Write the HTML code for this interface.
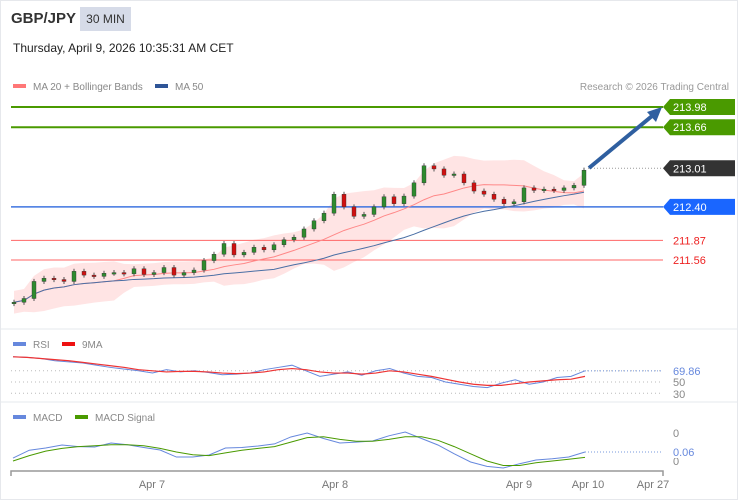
<!DOCTYPE html>
<html><head><meta charset="utf-8">
<style>
html,body{margin:0;padding:0;background:#fff;}
body{width:738px;height:500px;overflow:hidden;font-family:"Liberation Sans",sans-serif;}
#frame{position:absolute;left:0;top:0;width:736px;height:498px;border:1px solid #e6e8ec;}
.t{position:absolute;white-space:nowrap;}
</style></head><body>
<div id="frame"></div>
<div class="t" style="left:11px;top:10px;font-size:15px;font-weight:bold;color:#333;">GBP/JPY</div>
<div class="t" style="left:80px;top:7px;width:51px;height:24px;background:#d6dbe8;color:#333;font-size:12px;line-height:24px;text-align:center;">30 MIN</div>
<div class="t" style="left:13px;top:41px;font-size:12px;color:#222;">Thursday, April 9, 2026 10:35:31 AM CET</div>
<svg id="chart" width="738" height="500" style="position:absolute;left:0;top:0;"></svg>
<script>
// ---------- data ----------
const closes=[210.89,210.95,211.22,211.27,211.25,211.22,211.38,211.32,211.30,211.35,211.36,211.34,211.42,211.33,211.36,211.44,211.32,211.36,211.40,211.55,211.65,211.82,211.64,211.68,211.76,211.72,211.80,211.88,211.92,212.05,212.18,212.30,212.60,212.40,212.25,212.28,212.40,212.56,212.45,212.57,212.78,213.05,213.00,212.90,212.92,212.78,212.65,212.60,212.52,212.45,212.48,212.70,212.66,212.68,212.66,212.70,212.74,212.98];
const levelPrices=[213.98,213.66,213.01,212.40,211.87,211.56];
const levelLabels=["213.98","213.66","213.01","212.40","211.87","211.56"];
const rsiVals=[95,94,92,88,86,84,80,76,73,70,66,72,68,70,67,63,64,66,72,76,80,70,60,64,68,62,70,74,66,60,58,50,46,42,40,48,54,46,50,58,60,70];
const rsiMA=[95,94,92,90,88,85,82,79,76,72,70,68,69,69,68,66,65,66,68,72,74,72,68,66,66,64,66,70,68,64,60,55,50,46,44,44,47,50,52,54,55,60];
const macdVals=[-0.067,0.02,0.044,0.078,0.06,0.056,0.1,0.08,0.05,0.022,-0.056,-0.056,-0.033,0.044,0.05,0.067,0.09,0.167,0.211,0.15,0.1,0.11,0.122,0.18,0.222,0.15,0.078,-0.02,-0.111,-0.16,-0.178,-0.13,-0.089,-0.075,-0.056,0.0];
const macdSig=[-0.1,-0.04,0.01,0.04,0.06,0.07,0.08,0.08,0.07,0.04,0.0,-0.03,-0.04,-0.01,0.02,0.04,0.06,0.11,0.16,0.17,0.14,0.12,0.12,0.14,0.17,0.17,0.13,0.06,-0.02,-0.1,-0.15,-0.15,-0.12,-0.1,-0.08,-0.06];
const xLabels=["Apr 7","Apr 8","Apr 9","Apr 10","Apr 27"];
const xLabelPos=[152,335,519,588,653];
// ---------- scales ----------
const X0=14,DX=10;
const px=i=>X0+i*DX;
const py=p=>107+(213.98-p)*63.2;
const ry=v=>382-(v-50)*0.56;
const mx0=13,mx1=585;
const rx=(i,n)=>mx0+i*(mx1-mx0)/(n-1);
const my=v=>470-(v+0.2)/0.5*45;
const svg=document.getElementById('chart');
const NS='http://www.w3.org/2000/svg';
function mk(tag,attrs,parent){const e=document.createElementNS(NS,tag);for(const k in attrs)e.setAttribute(k,attrs[k]);(parent||svg).appendChild(e);return e;}
function txt(x,y,s,fill,size,anchor){const e=mk('text',{x:x,y:y,fill:fill,'font-size':size,'font-family':'Liberation Sans, sans-serif','text-anchor':anchor||'start'});e.textContent=s;return e;}
// legends
let e;
e=mk('rect',{x:13,y:84,width:13,height:4,fill:'#ff7777'});
e=txt(33,90,'MA 20 + Bollinger Bands','#888',10);
e=mk('rect',{x:155,y:84,width:13,height:4,fill:'#2f5597'});
e=txt(175,90,'MA 50','#888',10);
e=txt(729,90,'Research © 2026 Trading Central','#999',10,'end');
// moving averages / bands
function sma(n){return closes.map((c,i)=>{const s=closes.slice(Math.max(0,i-n+1),i+1);return s.reduce((a,b)=>a+b,0)/s.length;});}
function sd(n){return closes.map((c,i)=>{const s=closes.slice(Math.max(0,i-n+1),i+1);const m=s.reduce((a,b)=>a+b,0)/s.length;return Math.sqrt(s.reduce((a,b)=>a+(b-m)*(b-m),0)/s.length);});}
const ma20=sma(11),ma50=sma(27),sdv=sd(11);
const up=ma20.map((m,i)=>m+2*Math.max(sdv[i],0.09)),lo=ma20.map((m,i)=>m-2*Math.max(sdv[i],0.09));
let bd='M'+up.map((v,i)=>px(i)+','+py(v)).join(' L')+' L'+lo.map((v,i)=>px(i)+','+py(v)).reverse().join(' L')+' Z';
e=mk('path',{d:bd,fill:'#ffe1e1',opacity:0.9});
// level lines
const lvlColor=['#4a9a00','#4a9a00',null,'#3f74e0','#ff6666','#ff6666'];
levelPrices.forEach((p,i)=>{
  const y=py(p);
  if(i===2){e=mk('line',{x1:588,y1:y,x2:663,y2:y,stroke:'#999','stroke-dasharray':'1,2'});}
  else{e=mk('line',{x1:11,y1:y,x2:663,y2:y,stroke:lvlColor[i],'stroke-width':i<2?2:(i===3?1.5:1)});}
  
  if(i>=4){e=txt(673,y+4,levelLabels[i],'#ee2222',11);}
  else{
    const bg=i<2?'#4a9a00':(i===2?'#333':'#1a66ff');
    e=mk('path',{d:`M663,${y} L670,${y-8} L735,${y-8} L735,${y+8} L670,${y+8} Z`,fill:bg});
    
    e=txt(673,y+4,levelLabels[i],'#fff',11);
  }
  
});
e=mk('path',{d:'M'+ma20.map((v,i)=>px(i)+','+py(v)).join(' L'),fill:'none',stroke:'#ff8888','stroke-width':1});
e=mk('path',{d:'M'+ma50.map((v,i)=>px(i)+','+py(v)).join(' L'),fill:'none',stroke:'#4a6fa5','stroke-width':1});
// candles
closes.forEach((c,i)=>{
  const o=i===0?c-0.02:closes[i-1];
  const hi=Math.max(o,c)+0.04,lw=Math.min(o,c)-0.04;
  const g=mk('g',{});
  mk('line',{x1:px(i),x2:px(i),y1:py(hi),y2:py(lw),stroke:'#555','stroke-width':1},g);
  const y1=py(Math.max(o,c)),h=Math.max(1.5,py(Math.min(o,c))-y1);
  mk('rect',{x:px(i)-2,y:y1,width:4,height:h,fill:c>=o?'#2e8b2e':'#d01010',stroke:'#333','stroke-width':0.4},g);
});
// arrow
e=mk('line',{x1:589,y1:168,x2:652,y2:116,stroke:'#2f5fa0','stroke-width':4});
e=mk('path',{d:'M662,107 L647,112 L656,122 Z',fill:'#2f5fa0'});
// separators
[329,402].forEach(y=>{e=mk('line',{x1:1,y1:y,x2:737,y2:y,stroke:'#e6e8ec'});});
// RSI panel
e=mk('rect',{x:13,y:342,width:13,height:4,fill:'#6688dd'});
e=txt(33,348,'RSI','#888',10);
e=mk('rect',{x:62,y:342,width:13,height:4,fill:'#ee1111'});
e=txt(82,348,'9MA','#888',10);
[[70,'#bbb'],[50,'#bbb'],[30,'#bbb']].forEach(([v,c])=>{e=mk('line',{x1:11,y1:ry(v),x2:663,y2:ry(v),stroke:c,'stroke-dasharray':'1,3'});});
e=mk('line',{x1:585,y1:ry(69.86),x2:663,y2:ry(69.86),stroke:'#7799dd','stroke-dasharray':'1,2'});
e=txt(673,375,'69.86','#6688dd',11);
e=txt(673,386,'50','#888',11);
e=txt(673,398,'30','#888',11);
e=mk('path',{d:'M'+rsiVals.map((v,i)=>rx(i,rsiVals.length)+','+ry(v)).join(' L'),fill:'none',stroke:'#6688dd','stroke-width':1});
e=mk('path',{d:'M'+rsiMA.map((v,i)=>rx(i,rsiMA.length)+','+ry(v)).join(' L'),fill:'none',stroke:'#ee3333','stroke-width':1.2});
// MACD panel
e=mk('rect',{x:13,y:415,width:13,height:4,fill:'#6688dd'});
e=txt(33,421,'MACD','#888',10);
e=mk('rect',{x:75,y:415,width:13,height:4,fill:'#4a9a00'});
e=txt(95,421,'MACD Signal','#888',10);
e=txt(673,437,'0','#888',11);
e=txt(673,465,'0','#888',11);
e=mk('rect',{x:668,y:446,width:40,height:12,fill:'#fff'});
e=txt(673,456,'0.06','#6688dd',11);
e=mk('line',{x1:585,y1:452,x2:663,y2:452,stroke:'#7799dd','stroke-dasharray':'1,2'});
e=mk('path',{d:'M'+macdVals.map((v,i)=>rx(i,macdVals.length)+','+my(v)).join(' L'),fill:'none',stroke:'#6688dd','stroke-width':1});
e=mk('path',{d:'M'+macdSig.map((v,i)=>rx(i,macdSig.length)+','+my(v)).join(' L'),fill:'none',stroke:'#4a9a00','stroke-width':1});
// x axis
e=mk('path',{d:'M11,476 L11,471 L663,471 L663,476',fill:'none',stroke:'#999','stroke-width':1.5});
xLabels.forEach((s,i)=>{e=txt(xLabelPos[i],488,s,'#777',11,'middle');});
</script>
</body></html>
